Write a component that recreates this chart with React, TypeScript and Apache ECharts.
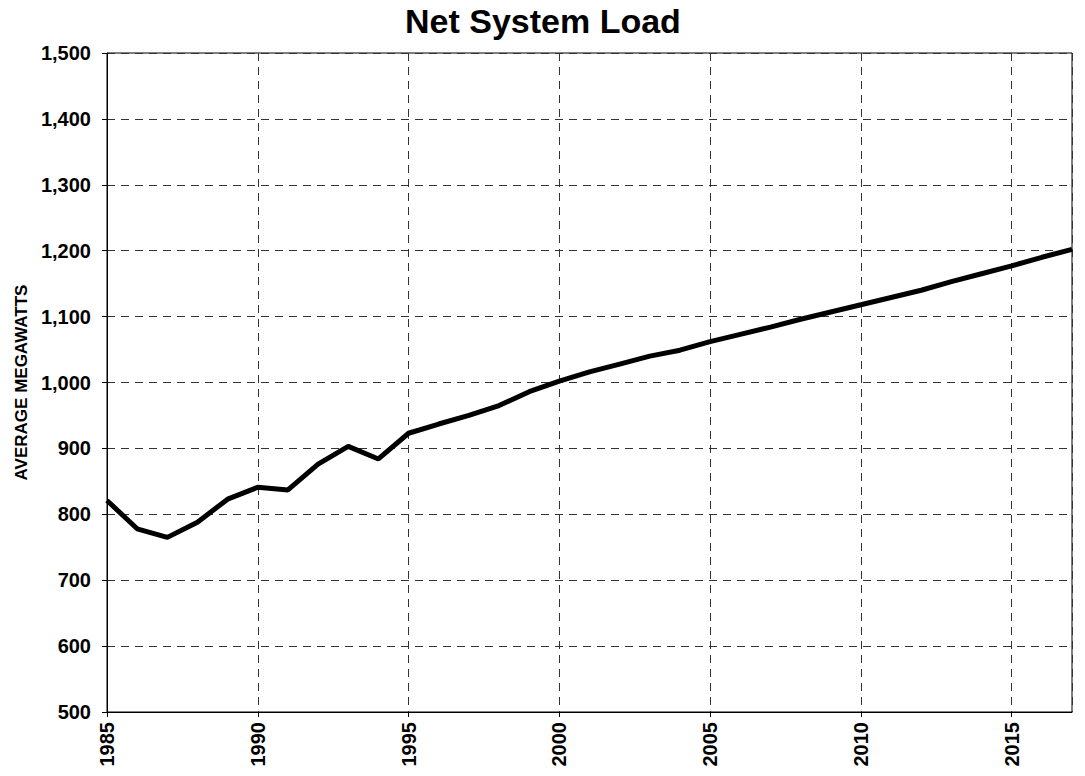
import React, { useEffect, useRef } from "react";
import * as echarts from "echarts";

const years = [1985, 1986, 1987, 1988, 1989, 1990, 1991, 1992, 1993, 1994, 1995, 1996, 1997, 1998, 1999, 2000, 2001, 2002, 2003, 2004, 2005, 2006, 2007, 2008, 2009, 2010, 2011, 2012, 2013, 2014, 2015, 2016, 2017];
const loadMW = [821, 778, 765, 788, 823, 841, 837, 876, 903, 884, 923, 937, 950, 965, 986, 1002, 1016, 1028, 1040, 1049, 1062, 1073, 1084, 1096, 1107, 1118, 1129, 1140, 1153, 1165, 1177, 1190, 1202];

const titleText = "Net System Load";
const yAxisTitle = "AVERAGE MEGAWATTS";

export default function App() {
  const ref = useRef<HTMLDivElement>(null);
  useEffect(() => {
    if (!ref.current) return;
    document.body.style.margin = "0";
    const chart = echarts.init(ref.current, null, { renderer: "svg" });
    const font = "Liberation Sans, Arial, sans-serif";
    chart.setOption({
      animation: false,
      backgroundColor: "#fff",
      title: {
        text: titleText,
        left: 405,
        top: 4,
        padding: 0,
        textStyle: { fontFamily: font, fontWeight: "bold", fontSize: 34, color: "#000" },
      },
      grid: {
        left: 107,
        right: 13,
        top: 53,
        bottom: 64,
        show: true,
        borderColor: "#000",
        borderWidth: 1,
        backgroundColor: "transparent",
      },
      xAxis: {
        type: "value",
        min: 1985,
        max: 2017,
        interval: 5,
        axisLine: { show: true, lineStyle: { color: "#000", width: 1 } },
        axisTick: { show: true, inside: false, length: 5, lineStyle: { color: "#000" } },
        axisLabel: {
          rotate: 90,
          fontFamily: font,
          fontWeight: "bold",
          fontSize: 20,
          color: "#000",
          margin: 10,
          showMaxLabel: false,
          formatter: (v: number) => (v % 5 === 0 ? String(v) : ""),
        },
        splitLine: { show: true, lineStyle: { color: "#333", type: [8, 6], width: 1 } },
      },
      yAxis: {
        type: "value",
        min: 500,
        max: 1500,
        interval: 100,
        name: yAxisTitle,
        nameLocation: "middle",
        nameRotate: 90,
        nameGap: 75,
        nameTextStyle: { fontFamily: font, fontWeight: "bold", fontSize: 17, color: "#000" },
        axisLine: { show: true, lineStyle: { color: "#000", width: 1 } },
        axisTick: { show: true, length: 5, lineStyle: { color: "#000" } },
        axisLabel: {
          fontFamily: font,
          fontWeight: "bold",
          fontSize: 20,
          color: "#000",
          margin: 16,
          formatter: (v: number) => v.toLocaleString("en-US"),
        },
        splitLine: { show: true, lineStyle: { color: "#333", type: [8, 6], width: 1 } },
      },
      series: [
        {
          type: "line",
          data: years.map((y, i) => [y, loadMW[i]]),
          showSymbol: false,
          lineStyle: { color: "#000", width: 5 },
          z: 5,
        },
      ],
    });
    return () => chart.dispose();
  }, []);
  return <div ref={ref} style={{ width: 1085, height: 776 }} />;
}
